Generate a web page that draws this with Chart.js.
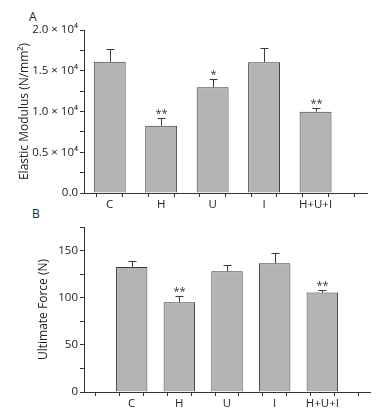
<!DOCTYPE html>
<html>
<head>
<meta charset="utf-8">
<script src="https://cdn.jsdelivr.net/npm/chart.js@4/dist/chart.umd.min.js"></script>
<style>
  body { margin: 0; background: #fff; width: 387px; height: 417px; position: relative; overflow: hidden; }
  canvas { position: absolute; left: 0; }
  #cA { top: 0; }
  #cB { top: 210px; }
  .panel { position: absolute; font: 12px "Open Sans", sans-serif; color: #222; }
</style>
</head>
<body>
<div class="panel" style="left:29px;top:8px;">A</div>
<div class="panel" style="left:32px;top:205px;">B</div>
<canvas id="cA" width="387" height="210"></canvas>
<canvas id="cB" width="387" height="207"></canvas>
<script>
// groups on the x axis
const groups = ["C", "H", "U", "I", "H+U+I"];

// panel A: elastic modulus (N/mm2)
const modulusMean = [16110, 8260, 12970, 16040, 9980];
const modulusSd = [1520, 980, 1060, 1710, 410];
const modulusSig = ["", "**", "*", "", "**"];

// panel B: ultimate force (N)
const forceMean = [132.7, 95.3, 128.1, 136.6, 105.5];
const forceSd = [6.3, 6.4, 7.1, 10.6, 3.2];
const forceSig = ["", "**", "", "", "**"];

const FONT = { family: "'Open Sans', sans-serif", size: 11.5 };
Chart.defaults.color = "#222";

// draws one-sided error bars and significance stars above the bars
const errorBars = {
  id: "errorBars",
  afterDatasetsDraw(chart, args, opts) {
    const ctx = chart.ctx;
    const meta = chart.getDatasetMeta(0);
    const ys = chart.scales.y;
    ctx.save();
    ctx.strokeStyle = "#3a3a3a";
    ctx.lineWidth = 1;
    meta.data.forEach((bar, i) => {
      const x = Math.round(bar.x) + 0.5;
      const y0 = ys.getPixelForValue(opts.mean[i]);
      const y1 = Math.round(ys.getPixelForValue(opts.mean[i] + opts.sd[i])) + 0.5;
      ctx.beginPath();
      ctx.moveTo(x, y0);
      ctx.lineTo(x, y1);
      ctx.moveTo(x - 4, y1);
      ctx.lineTo(x + 4, y1);
      ctx.stroke();
      if (opts.sig[i]) {
        ctx.fillStyle = "#333";
        ctx.font = "11px 'Open Sans', sans-serif";
        ctx.textAlign = "center";
        ctx.textBaseline = "middle";
        ctx.fillText(opts.sig[i], x, y1 - 5);
      }
    });
    ctx.restore();
  },
};

function makeChart(id, cfg) {
  return new Chart(document.getElementById(id), {
    type: "bar",
    data: {
      datasets: [
        {
          data: cfg.mean.map((v, i) => ({ x: i + 1, y: v })),
          backgroundColor: "#b4b4b4",
          borderColor: "#3a3a3a",
          borderWidth: 1,
          barPercentage: 1,
          // the ruler uses the half-step tick spacing, so double the fraction
          categoryPercentage: cfg.barFrac * 2,
        },
      ],
    },
    options: {
      responsive: false,
      animation: false,
      layout: { padding: cfg.padding },
      plugins: {
        legend: { display: false },
        tooltip: { enabled: false },
        errorBars: { mean: cfg.mean, sd: cfg.sd, sig: cfg.sig },
      },
      scales: {
        x: {
          type: "linear",
          offset: false,
          min: cfg.xMin,
          max: 6,
          grid: { drawOnChartArea: false, tickLength: 4, tickColor: "#333" },
          border: { color: "#333", width: 1 },
          ticks: {
            stepSize: 0.5,
            autoSkip: false,
            maxRotation: 0,
            padding: 1,
            font: FONT,
            callback: (v) => (Number.isInteger(v) && groups[v - 1]) || "",
          },
          afterFit: (s) => { s.height = cfg.xHeight; },
        },
        y: {
          min: 0,
          max: cfg.yMax,
          grid: { drawOnChartArea: false, tickLength: 4, tickColor: "#333" },
          border: { color: "#333", width: 1 },
          ticks: {
            stepSize: cfg.yMinor,
            autoSkip: false,
            padding: 2,
            font: FONT,
            callback: cfg.yLabel,
          },
          title: {
            display: true,
            text: cfg.title,
            font: { family: "'Open Sans', sans-serif", size: 12 },
            padding: { top: cfg.titlePad, bottom: 0 },
          },
          afterFit: (s) => { s.width = 84; },
        },
      },
    },
    plugins: [errorBars],
  });
}

makeChart("cA", {
  mean: modulusMean, sd: modulusSd, sig: modulusSig,
  barFrac: 0.62, xMin: 0.5, xHeight: 17,
  padding: { top: 30, right: 20, left: 0, bottom: 0 },
  yMax: 20000, yMinor: 2500,
  yLabel: (v) => v === 0 ? "0.0" : (v % 5000 === 0 ? (v / 10000).toFixed(1) + " × 10⁴" : ""),
  title: "Elastic Modulus (N/mm²)", titlePad: 17,
});

makeChart("cB", {
  mean: forceMean, sd: forceSd, sig: forceSig,
  barFrac: 0.66, xMin: 0, xHeight: 25,
  padding: { top: 17, right: 17, left: 0, bottom: 0 },
  yMax: 175, yMinor: 25,
  yLabel: (v) => (v % 50 === 0 ? String(v) : ""),
  title: "Ultimate Force (N)", titlePad: 36,
});
</script>
</body>
</html>
